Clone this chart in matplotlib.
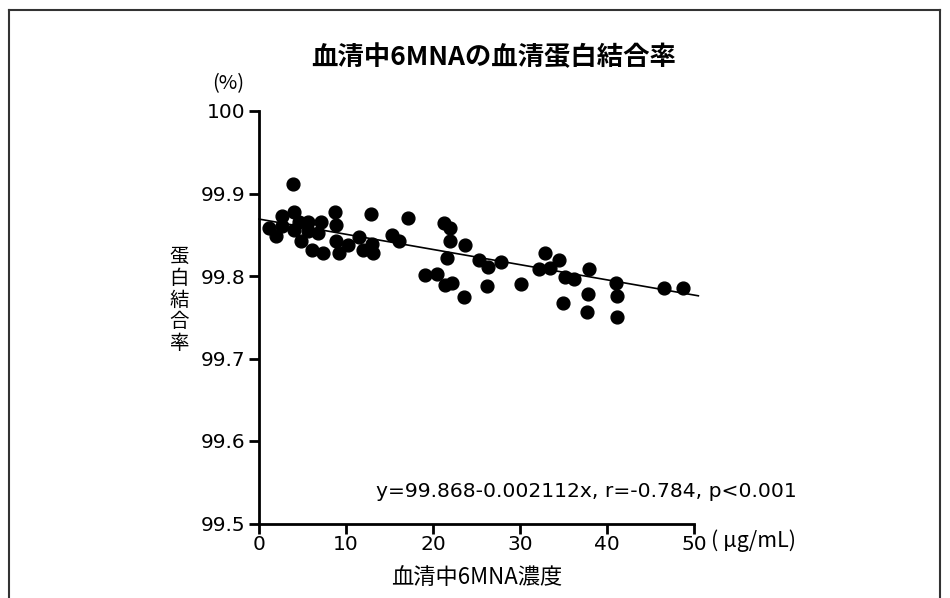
import matplotlib
matplotlib.use('Agg')
import matplotlib.pyplot as plt
from matplotlib.lines import Line2D

plt.rcParams['font.family'] = ['DejaVu Sans', 'Noto Sans CJK JP']

# serum 6MNA concentration (ug/mL) and protein binding rate (%)
conc = [1.15, 1.92, 2.61, 2.68, 3.95, 4.06, 4.06, 4.60, 4.80, 5.60,
        5.60, 6.06, 6.82, 7.13, 7.40, 8.75, 8.83, 8.83, 9.24, 10.21,
        11.51, 12.00, 12.85, 12.97, 13.08, 15.34, 16.11, 17.07, 19.10, 20.45,
        21.21, 21.90, 21.90, 21.60, 21.40, 22.24, 23.71, 23.62, 25.24, 26.32,
        26.20, 27.85, 30.15, 32.14, 32.83, 33.41, 34.44, 35.21, 36.25, 34.90,
        37.89, 37.83, 37.71, 41.05, 41.16, 41.16, 46.53, 48.76]
binding = [99.858, 99.849, 99.873, 99.861, 99.912, 99.878, 99.856, 99.866, 99.842, 99.866,
           99.854, 99.832, 99.852, 99.865, 99.828, 99.878, 99.862, 99.842, 99.828, 99.837,
           99.847, 99.832, 99.875, 99.839, 99.828, 99.850, 99.842, 99.870, 99.801, 99.803,
           99.864, 99.858, 99.842, 99.822, 99.789, 99.792, 99.838, 99.775, 99.820, 99.811,
           99.788, 99.817, 99.790, 99.809, 99.828, 99.810, 99.819, 99.799, 99.796, 99.767,
           99.808, 99.778, 99.756, 99.791, 99.776, 99.750, 99.786, 99.786]

# regression line as drawn
fit_x = [0, 50.5]
fit_y = [99.869, 99.776]

x_ticks = [0, 10, 20, 30, 40, 50]
y_ticks = [99.5, 99.6, 99.7, 99.8, 99.9, 100]
y_tick_labels = ['99.5', '99.6', '99.7', '99.8', '99.9', '100']

title = '血清中6MNAの血清蛋白結合率'
x_label = '血清中6MNA濃度'
y_label = '蛋白結合率'
stats_text = 'y=99.868-0.002112x, r=-0.784, p<0.001'

fig = plt.figure(figsize=(9.5, 5.98), dpi=100)
ax = fig.add_axes([259/950, 1 - 523.5/598, 435/950, 412.5/598])

ax.plot(fit_x, fit_y, color='black', lw=1.2, zorder=2, clip_on=False)
ax.scatter(conc, binding, s=85, color='black', zorder=3, clip_on=False)

ax.set_xlim(0, 50)
ax.set_ylim(99.5, 100)
ax.set_xticks(x_ticks)
ax.set_yticks(y_ticks)
ax.set_yticklabels(y_tick_labels)
for s in ['top', 'right']:
    ax.spines[s].set_visible(False)
for s in ['left', 'bottom']:
    ax.spines[s].set_linewidth(2)
ax.tick_params(width=2, length=7, labelsize=14.5, pad=1)
ax.tick_params(axis='y', pad=3)

ax.text(0.268, 0.078, stats_text, transform=ax.transAxes, fontsize=14.6,
        ha='left', va='center')

fig.text(494/950, 1 - 58/598, title, family=['Noto Sans CJK JP'],
         fontsize=19, fontweight='bold', ha='center', va='center')
fig.text(228/950, 1 - 84/598, '(%)', family=['Noto Sans CJK JP'],
         fontsize=14.5, ha='center', va='center')
fig.text(179/950, 1 - 300/598, '\n'.join(y_label), family=['Noto Sans CJK JP'],
         fontsize=14, ha='center', va='center', linespacing=1.05)
fig.text(477/950, 1 - 578/598, x_label, family=['Noto Sans CJK JP'],
         fontsize=16, ha='center', va='center')
fig.text(711/950, 1 - 541/598, '( μg/mL)', family=['Noto Sans CJK JP'],
         fontsize=15.5, ha='left', va='center')

# outer frame of the picture
frame = dict(color='#333333', lw=1.5, transform=fig.transFigure)
fig.add_artist(Line2D([9/950, 940/950], [1 - 10/598, 1 - 10/598], **frame))
fig.add_artist(Line2D([9/950, 9/950], [1 - 10/598, 0], **frame))
fig.add_artist(Line2D([940/950, 940/950], [1 - 10/598, 0], **frame))

fig.savefig('out.png', dpi=100)
